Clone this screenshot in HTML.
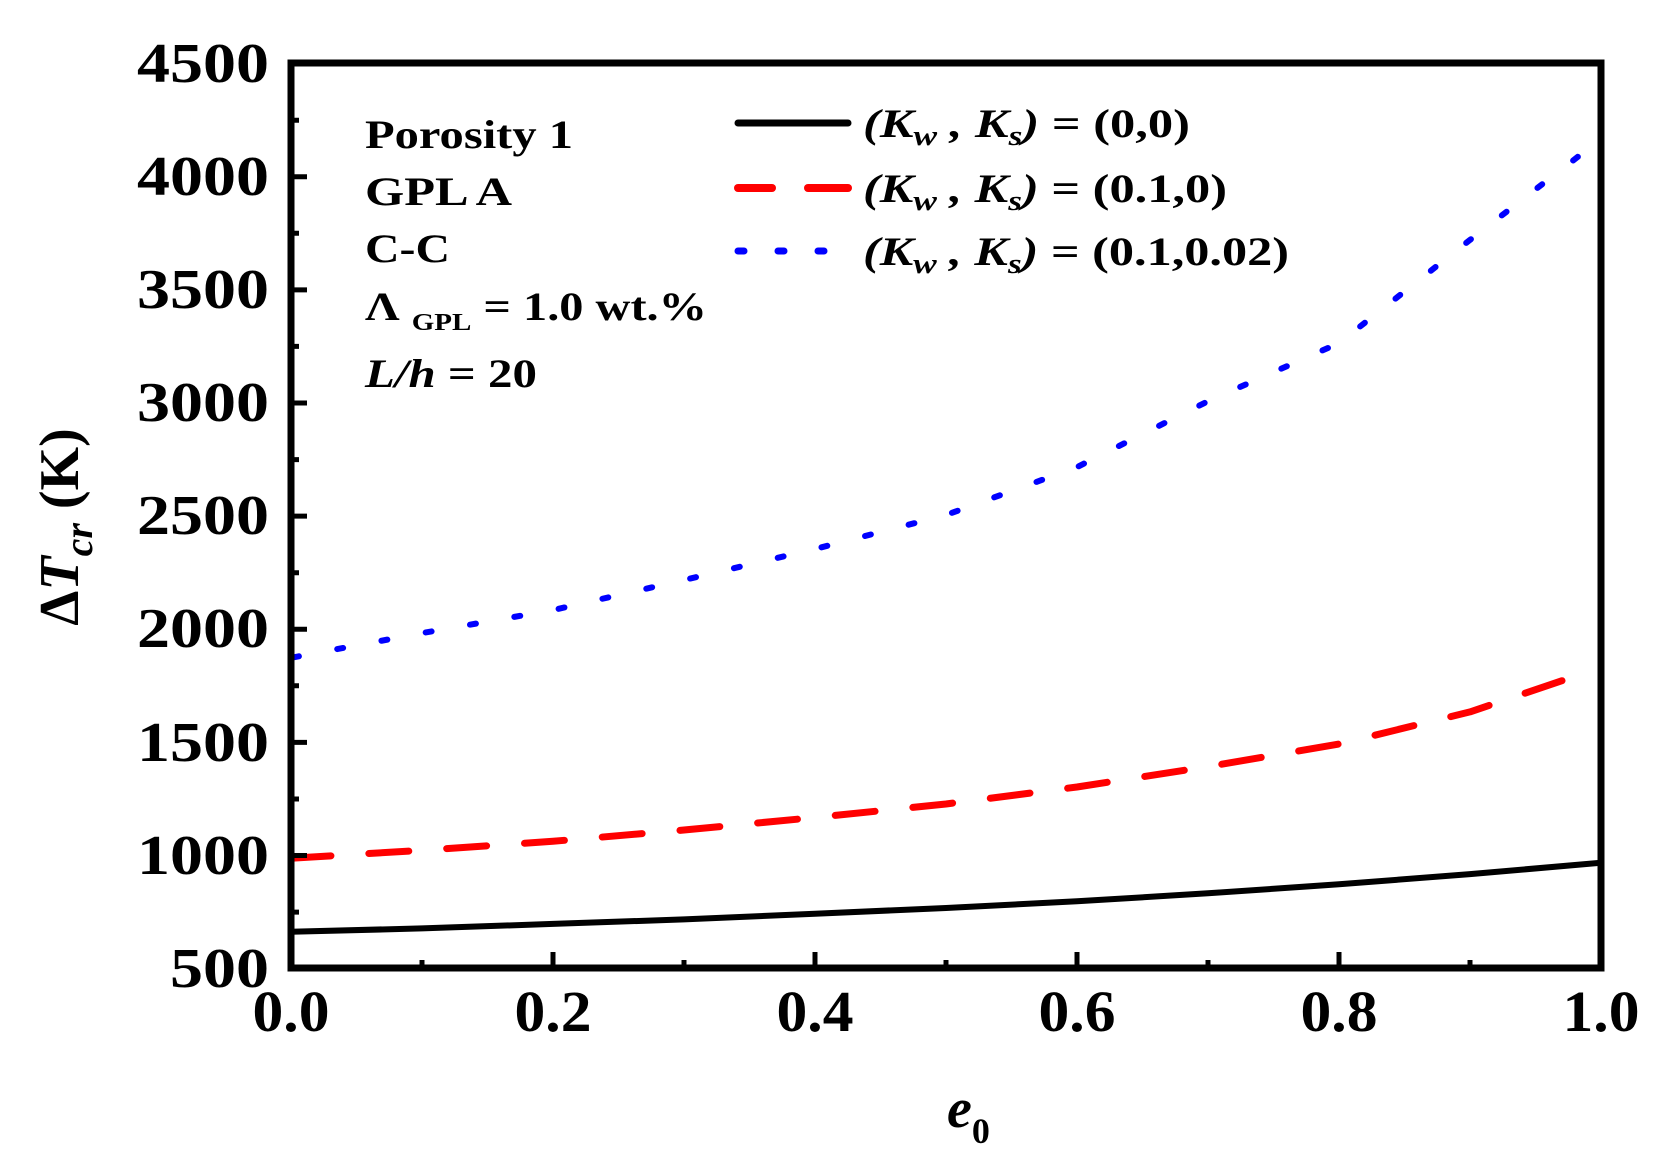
<!DOCTYPE html>
<html><head><meta charset="utf-8"><style>html,body{margin:0;padding:0;background:#fff}svg{display:block}text{font-family:"Liberation Serif",serif;font-weight:bold;fill:#000}</style></head>
<body>
<svg width="1655" height="1162" viewBox="0 0 1655 1162" xmlns="http://www.w3.org/2000/svg">
<rect width="1655" height="1162" fill="#fff"/>
<defs><clipPath id="c"><rect x="291" y="63" width="1310" height="905"/></clipPath></defs>
<g clip-path="url(#c)" fill="none" stroke-linejoin="round">
<polyline stroke="#000" stroke-width="6" points="291,931.8 422,928.4 553,923.9 684,919.4 815,913.7 946,908 1077,901.3 1208,893.3 1339,884.3 1470,874.1 1601,862.8"/>
<polyline stroke="#f00" stroke-width="7" stroke-dasharray="40,38" stroke-linecap="round" points="291,858.3 422,850.3 553,841.3 684,830 815,817.5 946,804 1077,787 1208,766.6 1339,744 1470,711.9 1562,680.7"/>
<polyline stroke="#00f" stroke-width="6" stroke-dasharray="6,39" stroke-linecap="round" points="293,657.4 422,633.1 553,610.1 684,580 815,549 946,515 1077,467.1 1208,401.2 1339,343.1 1470,239.9 1588,149"/>
</g>
<rect x="291" y="63" width="1310" height="905" fill="none" stroke="#000" stroke-width="7"/>
<g stroke="#000" stroke-width="5">
<path d="M291,63.6h16 M291,176.7h16 M291,289.9h16 M291,403h16 M291,516.1h16 M291,629.2h16 M291,742.4h16 M291,855.5h16"/>
<path d="M291,120.2h8 M291,233.3h8 M291,346.4h8 M291,459.6h8 M291,572.7h8 M291,685.8h8 M291,799h8 M291,912.1h8"/>
<path d="M553,968v-16 M815,968v-16 M1077,968v-16 M1339,968v-16 M422,968v-8 M684,968v-8 M946,968v-8 M1208,968v-8 M1470,968v-8"/>
</g>
<g font-size="56" text-anchor="end" lengthAdjust="spacingAndGlyphs">
<text x="269" y="82" textLength="132" lengthAdjust="spacingAndGlyphs">4500</text><text x="269" y="195" textLength="132" lengthAdjust="spacingAndGlyphs">4000</text><text x="269" y="308" textLength="132" lengthAdjust="spacingAndGlyphs">3500</text><text x="269" y="421" textLength="132" lengthAdjust="spacingAndGlyphs">3000</text><text x="269" y="534" textLength="132" lengthAdjust="spacingAndGlyphs">2500</text><text x="269" y="647" textLength="132" lengthAdjust="spacingAndGlyphs">2000</text><text x="269" y="761" textLength="132" lengthAdjust="spacingAndGlyphs">1500</text><text x="269" y="874" textLength="132" lengthAdjust="spacingAndGlyphs">1000</text><text x="269" y="987" textLength="99" lengthAdjust="spacingAndGlyphs">500</text>
</g>
<g font-size="58" text-anchor="middle">
<text x="291" y="1031" textLength="77" lengthAdjust="spacingAndGlyphs">0.0</text><text x="553" y="1031" textLength="77" lengthAdjust="spacingAndGlyphs">0.2</text><text x="815" y="1031" textLength="77" lengthAdjust="spacingAndGlyphs">0.4</text><text x="1077" y="1031" textLength="77" lengthAdjust="spacingAndGlyphs">0.6</text><text x="1339" y="1031" textLength="77" lengthAdjust="spacingAndGlyphs">0.8</text><text x="1601" y="1031" textLength="77" lengthAdjust="spacingAndGlyphs">1.0</text>
</g>
<text x="947" y="1127" font-size="56" font-style="italic">e<tspan font-size="36" font-style="normal" dy="16">0</tspan></text>
<text transform="translate(78,527) rotate(-90)" text-anchor="middle" font-size="56">Δ<tspan font-style="italic">T</tspan><tspan font-style="italic" font-size="40" dy="14">cr</tspan><tspan dy="-14"> (K)</tspan></text>
<g font-size="40">
<text x="365" y="148" textLength="208" lengthAdjust="spacingAndGlyphs">Porosity 1</text>
<text x="365" y="205" textLength="147" lengthAdjust="spacingAndGlyphs">GPL A</text>
<text x="365" y="262" textLength="85" lengthAdjust="spacingAndGlyphs">C-C</text>
<text x="365" y="320" textLength="342" lengthAdjust="spacingAndGlyphs">Λ <tspan font-size="24" dy="10">GPL</tspan><tspan dy="-10"> = 1.0 wt.%</tspan></text>
<text x="365" y="387" textLength="172" lengthAdjust="spacingAndGlyphs"><tspan font-style="italic">L/h</tspan> = 20</text>
</g>
<g stroke-linecap="round">
<line x1="738" y1="123" x2="848" y2="123" stroke="#000" stroke-width="7"/>
<line x1="738" y1="188" x2="772" y2="188" stroke="#f00" stroke-width="8"/>
<line x1="808" y1="188" x2="848" y2="188" stroke="#f00" stroke-width="8"/>
<line x1="738" y1="251" x2="744" y2="251" stroke="#00f" stroke-width="7"/>
<line x1="778" y1="251" x2="784" y2="251" stroke="#00f" stroke-width="7"/>
<line x1="818" y1="251" x2="824" y2="251" stroke="#00f" stroke-width="7"/>
</g>
<g font-size="40">
<text x="863" y="137" textLength="327" lengthAdjust="spacingAndGlyphs"><tspan font-style="italic">(K<tspan font-size="28" dy="8">w</tspan><tspan dy="-8"> , K</tspan><tspan font-size="28" dy="8">s</tspan><tspan dy="-8">)</tspan></tspan> = (0,0)</text>
<text x="863" y="202" textLength="364" lengthAdjust="spacingAndGlyphs"><tspan font-style="italic">(K<tspan font-size="28" dy="8">w</tspan><tspan dy="-8"> , K</tspan><tspan font-size="28" dy="8">s</tspan><tspan dy="-8">)</tspan></tspan> = (0.1,0)</text>
<text x="863" y="265" textLength="426" lengthAdjust="spacingAndGlyphs"><tspan font-style="italic">(K<tspan font-size="28" dy="8">w</tspan><tspan dy="-8"> , K</tspan><tspan font-size="28" dy="8">s</tspan><tspan dy="-8">)</tspan></tspan> = (0.1,0.02)</text>
</g>
</svg>
</body></html>
